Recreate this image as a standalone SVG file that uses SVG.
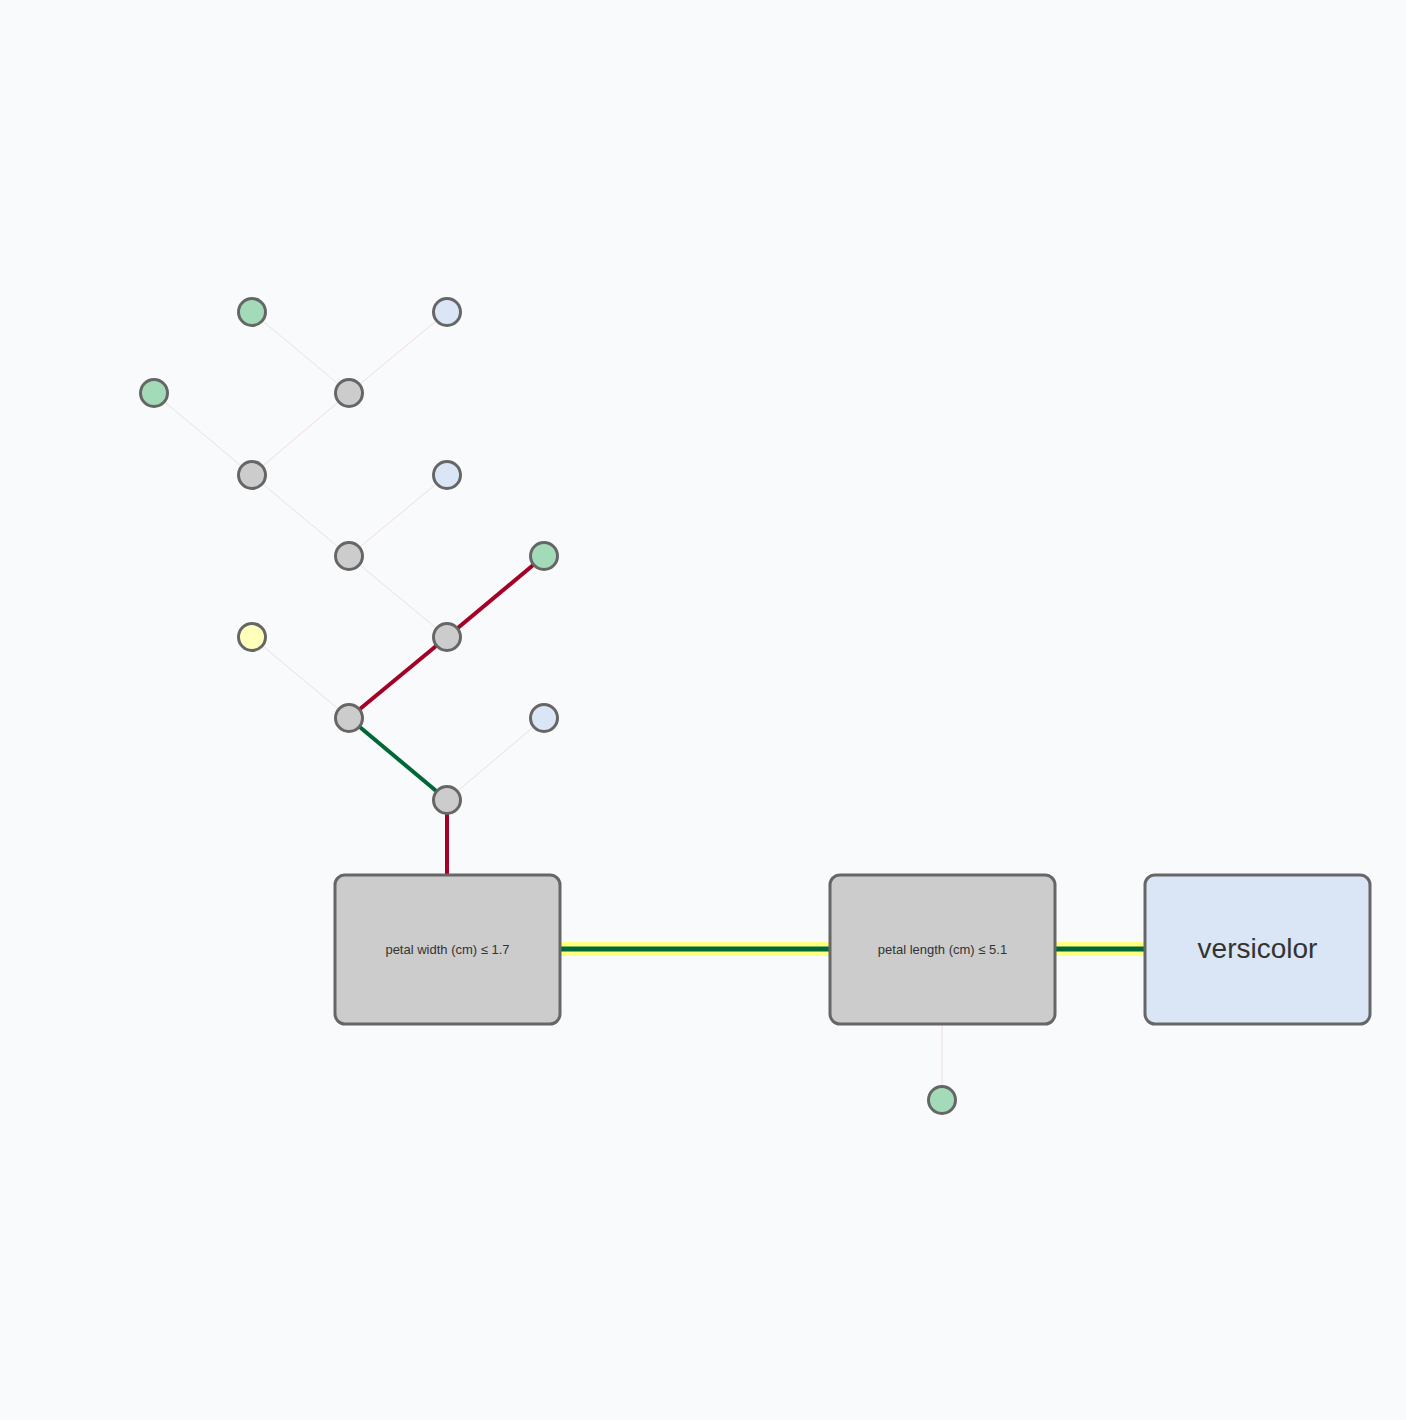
<svg xmlns="http://www.w3.org/2000/svg" width="1406" height="1420" viewBox="0 0 1406 1420">
<style>
.n{stroke:#666;stroke-width:3}
.g{fill:#cccccc}.gr{fill:#a3dbb8}.bl{fill:#dae6f5}.ye{fill:#ffffbb}
.fg{stroke:#dde8e4;stroke-width:1}.fr{stroke:#eedde2;stroke-width:1}
.tr{stroke:#a50026;stroke-width:4}.tg{stroke:#006837;stroke-width:4}
.box{stroke:#666;stroke-width:3}
text{font-family:"Liberation Sans",Arial,sans-serif;fill:#333;text-anchor:middle}
</style>
<rect width="1406" height="1420" fill="#f8fafc"/>
<g id="connectors" fill="none">
<line class="fg" x1="349" y1="393" x2="252" y2="312"/>
<line class="fr" x1="349" y1="393" x2="447" y2="312"/>
<line class="fg" x1="252" y1="475" x2="154" y2="393"/>
<line class="fr" x1="252" y1="475" x2="349" y2="393"/>
<line class="fg" x1="349" y1="556" x2="252" y2="475"/>
<line class="fr" x1="349" y1="556" x2="447" y2="475"/>
<line class="fg" x1="447" y1="637" x2="349" y2="556"/>
<line class="tr" x1="447" y1="637" x2="544" y2="556"/>
<line class="tr" x1="349" y1="718" x2="447" y2="637"/>
<line class="fr" x1="349" y1="718" x2="252" y2="637"/>
<line class="tg" x1="447" y1="800" x2="349" y2="718"/>
<line class="fr" x1="447" y1="800" x2="544" y2="718"/>
<line class="tr" x1="447" y1="800" x2="447" y2="875"/>
<line stroke="#ffff80" stroke-width="14" x1="560" y1="949" x2="830" y2="949"/>
<line stroke="#006837" stroke-width="5" x1="560" y1="949" x2="830" y2="949"/>
<line stroke="#ffff80" stroke-width="14" x1="1055" y1="949" x2="1145" y2="949"/>
<line stroke="#006837" stroke-width="5" x1="1055" y1="949" x2="1145" y2="949"/>
<line class="fr" stroke="#f2c8d4" x1="942" y1="1024" x2="942" y2="1086"/>
</g>
<g id="nA"><circle class="n gr" cx="252" cy="312" r="13.5"/></g>
<g id="nB"><circle class="n bl" cx="447" cy="312" r="13.5"/></g>
<g id="nC"><circle class="n gr" cx="154" cy="393" r="13.5"/></g>
<g id="nD"><circle class="n g" cx="349" cy="393" r="13.5"/></g>
<g id="nE"><circle class="n g" cx="252" cy="475" r="13.5"/></g>
<g id="nF"><circle class="n bl" cx="447" cy="475" r="13.5"/></g>
<g id="nG"><circle class="n g" cx="349" cy="556" r="13.5"/></g>
<g id="nH"><circle class="n gr" cx="544" cy="556" r="13.5"/></g>
<g id="nI"><circle class="n g" cx="447" cy="637" r="13.5"/></g>
<g id="nJ"><circle class="n ye" cx="252" cy="637" r="13.5"/></g>
<g id="nK"><circle class="n g" cx="349" cy="718" r="13.5"/></g>
<g id="nL"><circle class="n bl" cx="544" cy="718" r="13.5"/></g>
<g id="nM"><circle class="n g" cx="447" cy="800" r="13.5"/></g>
<g id="nN"><circle class="n gr" cx="942" cy="1100" r="13.5"/></g>
<g id="box1"><rect class="box g" x="335" y="875" width="225" height="149" rx="10"/><text x="447.5" y="954" font-size="13">petal width (cm) ≤ 1.7</text></g>
<g id="box2"><rect class="box g" x="830" y="875" width="225" height="149" rx="10"/><text x="942.5" y="954" font-size="13">petal length (cm) ≤ 5.1</text></g>
<g id="box3"><rect class="box bl" x="1145" y="875" width="225" height="149" rx="10"/><text x="1257.5" y="958" font-size="28">versicolor</text></g>
</svg>
